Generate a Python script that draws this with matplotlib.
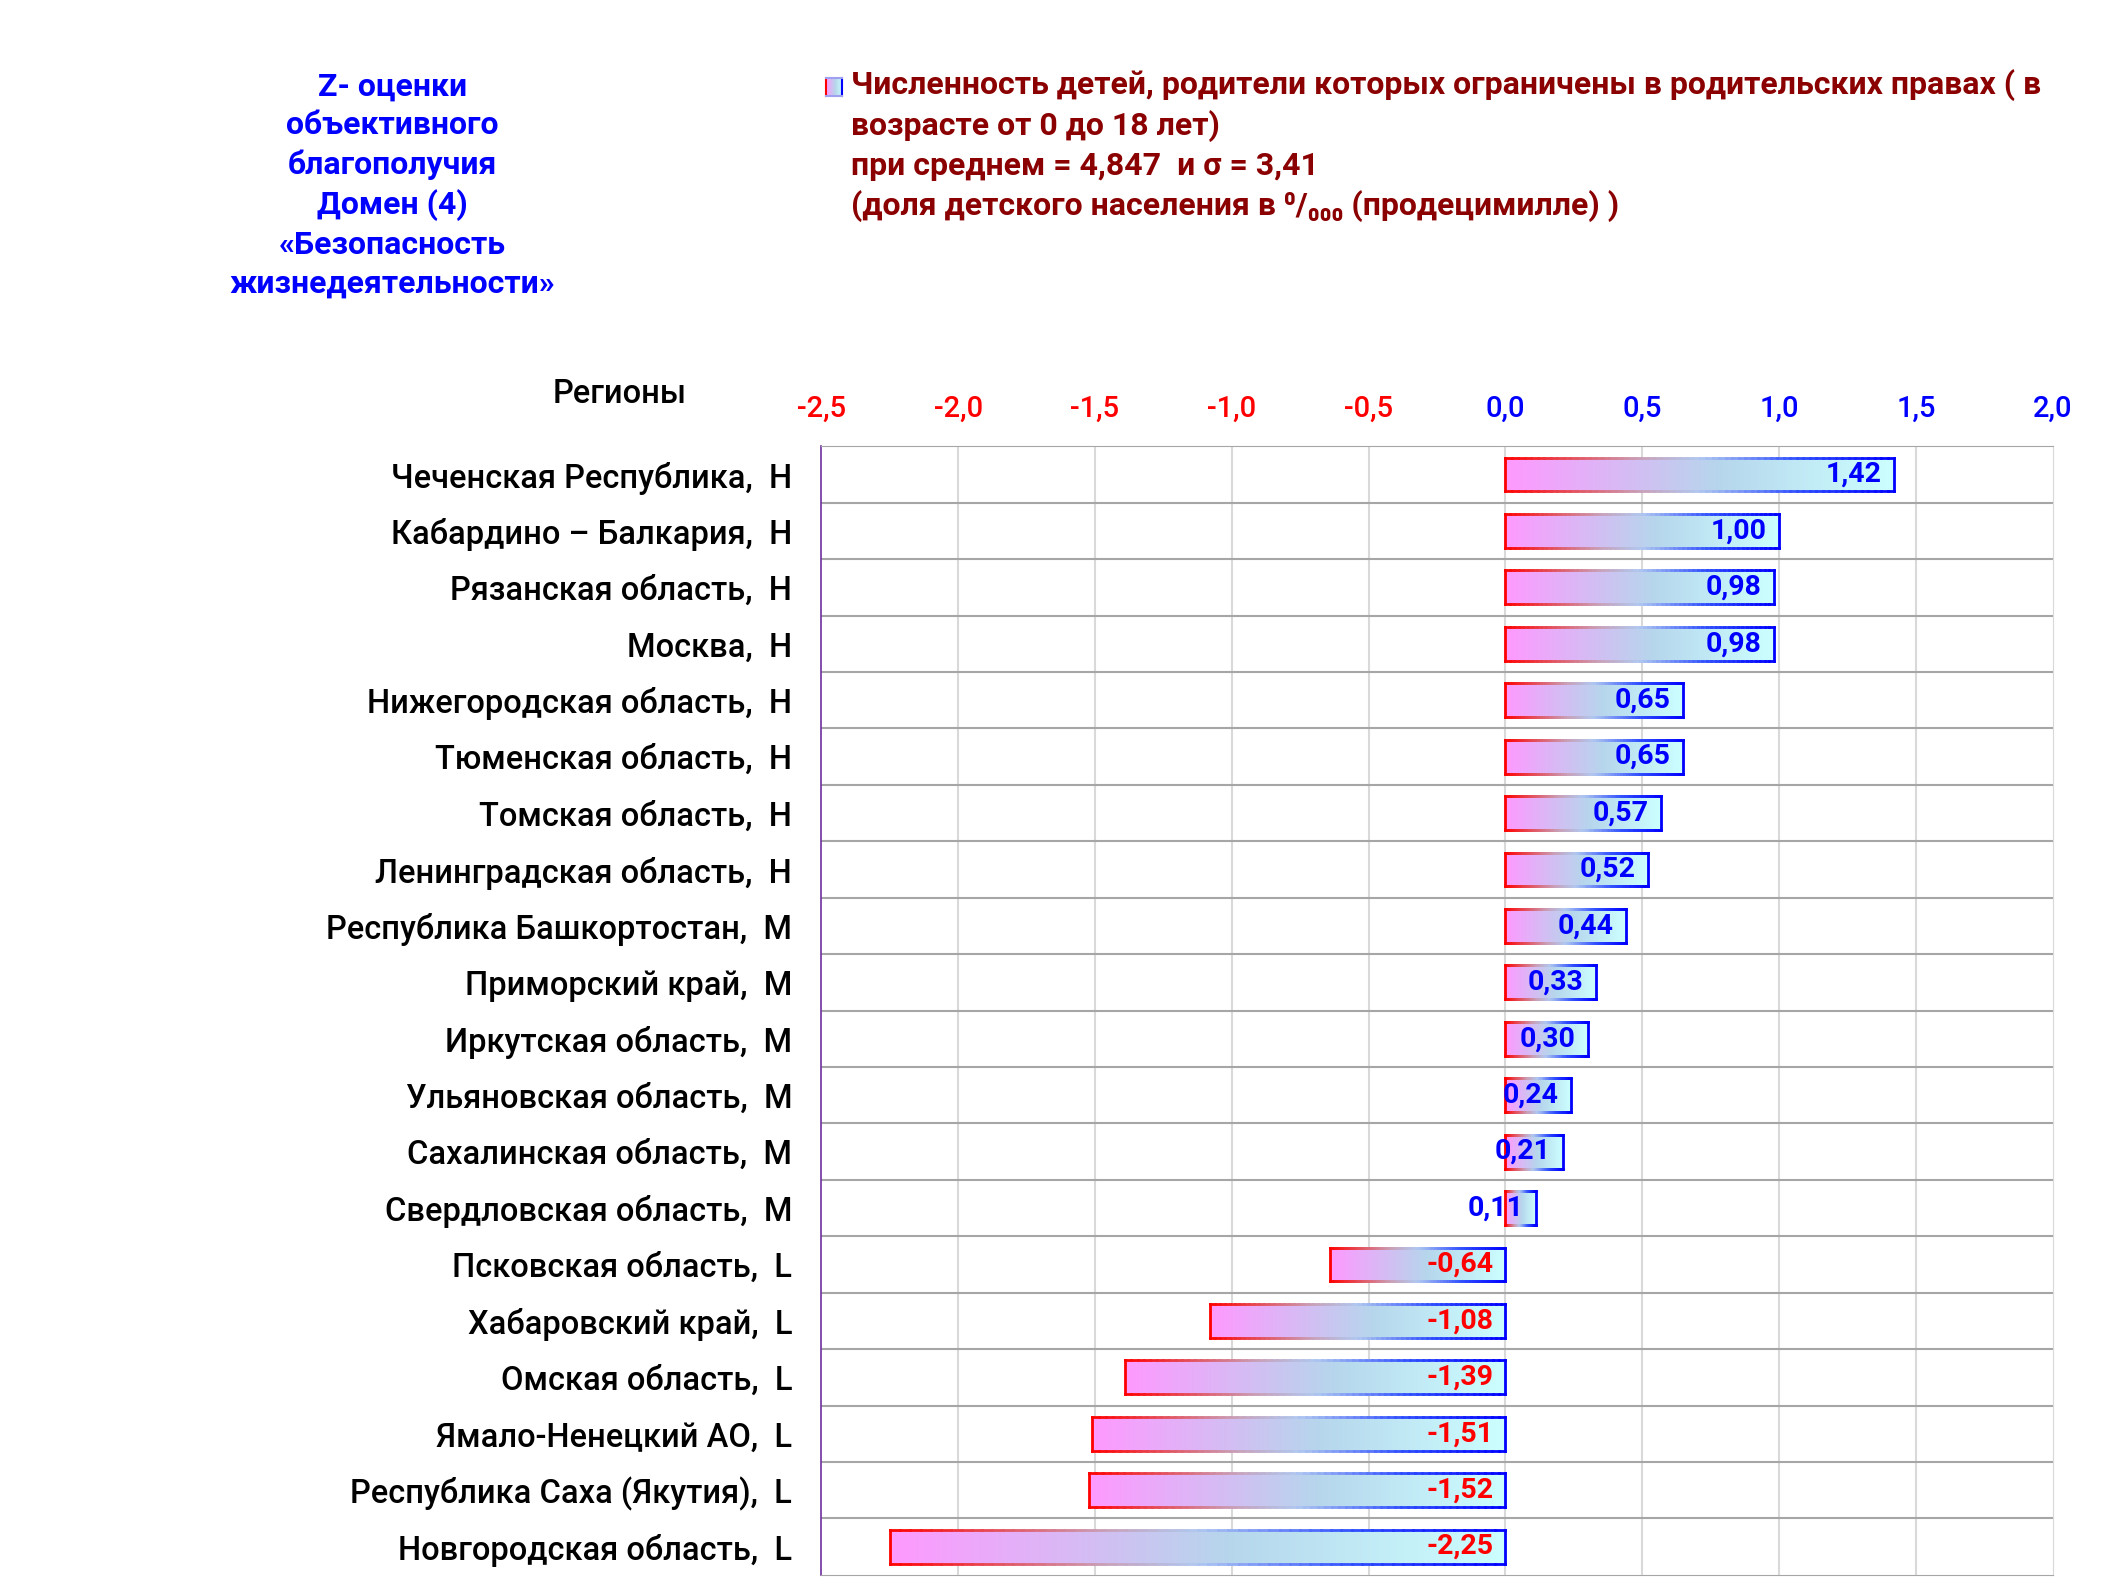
import numpy as np
import matplotlib.pyplot as plt
from matplotlib.colors import LinearSegmentedColormap, to_rgba
from matplotlib.collections import LineCollection

plt.rcParams['font.family'] = ['Roboto', 'DejaVu Sans']

regions = ["Чеченская Республика,  Н", "Кабардино – Балкария,  Н", "Рязанская область,  Н",
           "Москва,  Н", "Нижегородская область,  Н", "Тюменская область,  Н",
           "Томская область,  Н", "Ленинградская область,  Н", "Республика Башкортостан,  М",
           "Приморский край,  М", "Иркутская область,  М", "Ульяновская область,  М",
           "Сахалинская область,  М", "Свердловская область,  М", "Псковская область,  L",
           "Хабаровский край,  L", "Омская область,  L", "Ямало-Ненецкий АО,  L",
           "Республика Саха (Якутия),  L", "Новгородская область,  L"]
z_scores = [1.42, 1.00, 0.98, 0.98, 0.65, 0.65, 0.57, 0.52, 0.44, 0.33, 0.30, 0.24,
            0.21, 0.11, -0.64, -1.08, -1.39, -1.51, -1.52, -2.25]
ticks = [-2.5, -2.0, -1.5, -1.0, -0.5, 0.0, 0.5, 1.0, 1.5, 2.0]

fill_cmap = LinearSegmentedColormap.from_list(
    "fill", [(0, "#FF99FF"), (0.55, "#B6D6EC"), (1, "#CCFFFF")])
edge_cmap = LinearSegmentedColormap.from_list(
    "edge", [(0, "#FF0000"), (0.35, "#C9A0B8"), (0.5, "#B0C8F0"), (0.75, "#3050FF"), (1, "#0000FF")])

fig = plt.figure(figsize=(21.25, 15.94), dpi=100)
ax = fig.add_axes([0.3865, 0.012, 0.5795, 0.708])

y = np.arange(len(regions))
bars = ax.barh(y, z_scores, height=0.6, facecolor="none", edgecolor="none", zorder=3)

grad = np.linspace(0, 1, 256).reshape(1, -1)
for bar, val in zip(bars, z_scores):
    x0 = bar.get_x() if bar.get_width() >= 0 else bar.get_x() + bar.get_width()
    x1 = x0 + abs(bar.get_width())
    y0, y1 = bar.get_y(), bar.get_y() + bar.get_height()
    im = ax.imshow(grad, cmap=fill_cmap, extent=(x0, x1, y1, y0), aspect="auto",
                   interpolation="bilinear", zorder=3)
    im.set_clip_path(bar)
    # gradient outline
    n = 60
    xs = np.linspace(x0, x1, n + 1)
    segs, cols = [], []
    for i in range(n):
        c = edge_cmap((i + 0.5) / n)
        segs.append([(xs[i], y0), (xs[i + 1], y0)])
        segs.append([(xs[i], y1), (xs[i + 1], y1)])
        cols += [c, c]
    segs.append([(x0, y0), (x0, y1)])
    cols.append(to_rgba("#FF0000"))
    segs.append([(x1, y0), (x1, y1)])
    cols.append(to_rgba("#0000FF"))
    ax.add_collection(LineCollection(segs, colors=cols, linewidths=2.0, zorder=4,
                                     capstyle="projecting"))
    txt_col = "#0000FF" if val >= 0 else "#FF0000"
    ax.text(x1 - 0.045, bar.get_y() + bar.get_height() / 2, f"{val:.2f}".replace(".", ","),
            ha="right", va="center", fontsize=20.5, color=txt_col,
            fontweight="bold", zorder=5)

ax.set_xlim(-2.5, 2.0)
ax.set_ylim(len(regions) - 0.5, -0.5)
ax.xaxis.tick_top()
ax.set_xticks(ticks)
ax.set_xticklabels([f"{t:.1f}".replace(".", ",") for t in ticks], fontsize=21,
                   fontweight="medium")
for lab, t in zip(ax.get_xticklabels(), ticks):
    lab.set_color("#FF0000" if t < 0 else "#0000FF")
ax.set_yticks(y)
ax.set_yticklabels(regions, fontsize=23.5, fontweight="medium")
ax.tick_params(axis="both", length=0)
ax.tick_params(axis="x", pad=17)
ax.tick_params(axis="y", pad=21)

for t in ticks[1:-1]:
    ax.axvline(t, color="#D9D9D9", lw=1.5, zorder=1)
for b in np.arange(len(regions) - 1) + 0.5:
    ax.axhline(b, color="#A6A6A6", lw=1.5, zorder=1)
ax.spines["left"].set_color("#7030A0")
ax.spines["left"].set_linewidth(1.2)
ax.spines["top"].set_color("#A6A6A6")
ax.spines["bottom"].set_color("#A6A6A6")
ax.spines["right"].set_color("#D9D9D9")
for s in ax.spines.values():
    s.set_zorder(6)

fig.text(0.1846, 0.8838, "Z- оценки\nобъективного\nблагополучия\nДомен (4)\n«Безопасность\nжизнедеятельности»",
         ha="center", va="center", fontsize=23, fontweight="bold", color="#0000FF",
         linespacing=1.37)
fig.text(0.2917, 0.753, "Регионы", ha="center", va="center", fontsize=23.5,
         fontweight="medium", color="black")

# legend
lax = fig.add_axes([0.3885, 0.940, 0.0077, 0.011])
lax.imshow(grad, cmap=fill_cmap, aspect="auto", extent=(0, 1, 0, 1))
lax.set_xticks([])
lax.set_yticks([])
lax.spines["left"].set_color("#FF0000")
lax.spines["right"].set_color("#0000FF")
lax.spines["top"].set_color("#A0A0F0")
lax.spines["bottom"].set_color("#A0A0F0")
for s in lax.spines.values():
    s.set_linewidth(1.5)

legend_lines = ["Численность детей, родители которых ограничены в родительских правах ( в",
                "возрасте от 0 до 18 лет)",
                "при среднем = 4,847  и σ = 3,41",
                "(доля детского населения в ⁰/₀₀₀ (продецимилле) )"]
fig.text(0.4006, 0.9565, "\n".join(legend_lines), ha="left", va="top", fontsize=23,
         fontweight="bold", color="#8B0000", linespacing=1.36)

fig.savefig("out.png", dpi=100)
